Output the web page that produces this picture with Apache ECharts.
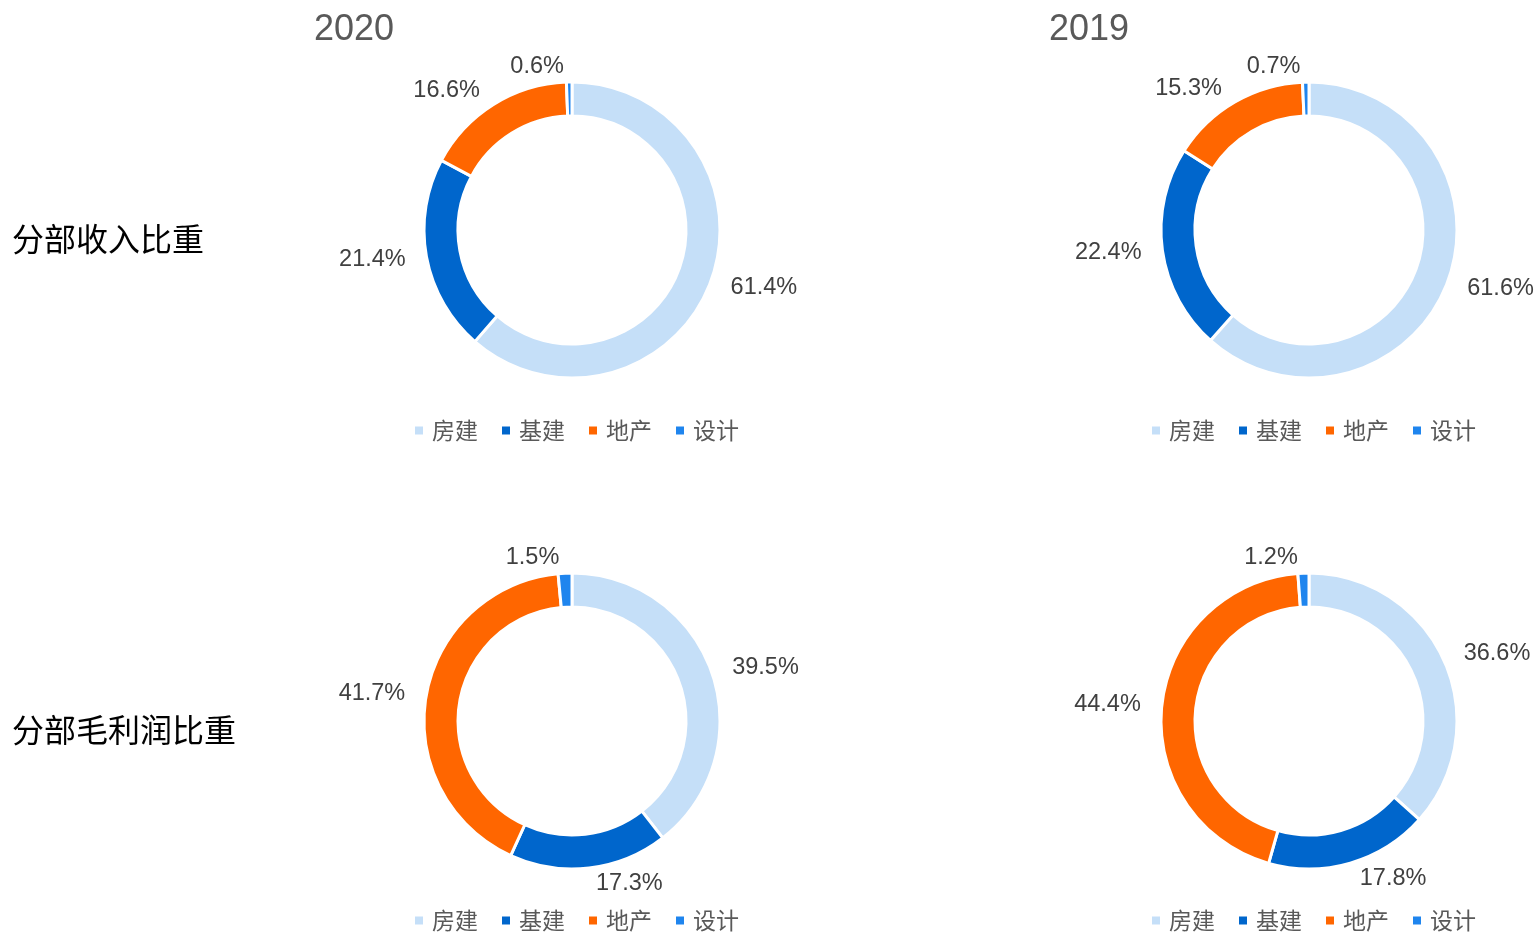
<!DOCTYPE html>
<html><head><meta charset="utf-8">
<script src="https://cdn.jsdelivr.net/npm/echarts@6/dist/echarts.min.js"></script>
<style>html,body{margin:0;padding:0;background:#fff}#c{width:1535px;height:935px}</style>
</head><body><div id="c"></div>
<script>
const categories = ['房建','基建','地产','设计'];
const years = ['2020','2019'];
const rowLabels = ['分部收入比重','分部毛利润比重'];
const revenue2020 = [61.4, 21.4, 16.6, 0.6];
const revenue2019 = [61.6, 22.4, 15.3, 0.7];
const profit2020 = [39.5, 17.3, 41.7, 1.5];
const profit2019 = [36.6, 17.8, 44.4, 1.2];
const colors = ['#C5DFF8','#0066CC','#FF6600','#1F85EE'];

const FONT = '"Liberation Sans", "Noto Sans CJK SC", sans-serif';
const CJK = '"Noto Sans CJK SC", sans-serif';
const panels = [
  {vals: revenue2020, cx: 572, cy: 230, legendTop: 414, legendLeft: 408},
  {vals: revenue2019, cx: 1309, cy: 230, legendTop: 414, legendLeft: 1145},
  {vals: profit2020, cx: 572, cy: 721, legendTop: 904, legendLeft: 408},
  {vals: profit2019, cx: 1309, cy: 721, legendTop: 904, legendLeft: 1145}
];
const chart = echarts.init(document.getElementById('c'));
const option = {
  animation: false,
  color: colors,
  title: [
    {text: years[0], left: 309, top: 7, textStyle: {fontSize: 36, fontWeight: 'normal', color: '#595959', fontFamily: FONT}},
    {text: years[1], left: 1044, top: 7, textStyle: {fontSize: 36, fontWeight: 'normal', color: '#595959', fontFamily: FONT}},
    {text: rowLabels[0], left: 7, top: 218, textStyle: {fontSize: 32, fontWeight: 'normal', color: '#000', fontFamily: CJK}},
    {text: rowLabels[1], left: 7, top: 709, textStyle: {fontSize: 32, fontWeight: 'normal', color: '#000', fontFamily: CJK}}
  ],
  legend: panels.map(p => ({
    data: categories, left: p.legendLeft, top: p.legendTop, icon: 'rect',
    itemWidth: 10, itemHeight: 10, itemGap: 22,
    textStyle: {fontSize: 23, color: '#595959', fontFamily: CJK, padding: [0, 0, 0, 3]}
  })),
  series: panels.map(p => ({
    type: 'pie', center: [p.cx, p.cy], radius: [114, 148], startAngle: 90, clockwise: true,
    avoidLabelOverlap: false,
    itemStyle: {borderColor: '#fff', borderWidth: 3},
    label: {show: true, position: 'outside', formatter: d => d.value.toFixed(1) + '%',
      fontSize: 23.5, color: '#404040', fontFamily: FONT},
    labelLine: {show: false, length: 16, length2: 0},
    data: categories.map((c, i) => ({name: c, value: p.vals[i]}))
  }))
};
chart.setOption(option);
</script></body></html>
